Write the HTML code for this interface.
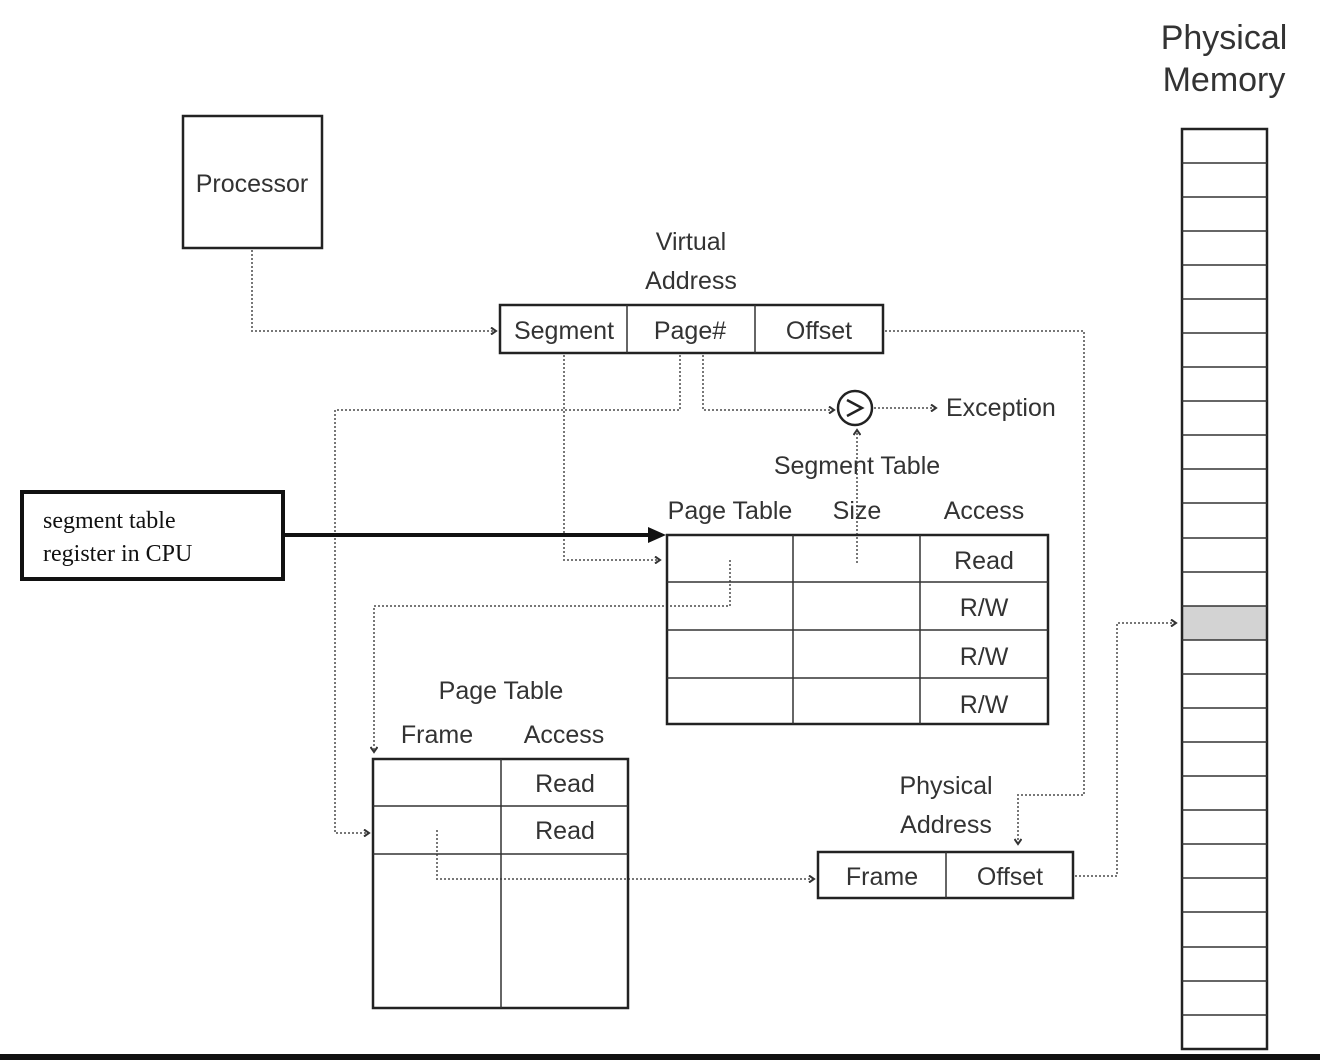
<!DOCTYPE html>
<html><head><meta charset="utf-8"><style>
html,body{margin:0;padding:0;background:#fff;width:1320px;height:1060px;overflow:hidden}
svg{display:block}
.t{font-family:"Liberation Sans Narrow","Liberation Sans",sans-serif;font-size:25px;fill:#333;text-anchor:middle;dominant-baseline:central}
.d{fill:none;stroke:#777;stroke-width:2;stroke-dasharray:2 2}
.b{fill:none;stroke:#222;stroke-width:2.5}
.l{stroke:#333;stroke-width:1.5}
</style></head><body>
<svg width="1320" height="1060" viewBox="0 0 1320 1060" xmlns="http://www.w3.org/2000/svg">
<defs><marker id="a" markerWidth="8" markerHeight="8" refX="6" refY="4" orient="auto" markerUnits="userSpaceOnUse"><path d="M1,0.5 L6,4 L1,7.5" fill="none" stroke="#333" stroke-width="2"/></marker></defs>

<!-- Physical Memory -->
<text x="1224" y="38" class="t" style="font-family:'Liberation Sans',sans-serif;font-size:34px">Physical</text>
<text x="1224" y="80" class="t" style="font-family:'Liberation Sans',sans-serif;font-size:34px">Memory</text>
<rect x="1182" y="606" width="85" height="34" fill="#d3d3d3"/>
<g id="mem"></g>
<rect x="1182" y="129" width="85" height="920" class="b"/>
<g class="l">
<line x1="1182" y1="163" x2="1267" y2="163"/><line x1="1182" y1="197" x2="1267" y2="197"/><line x1="1182" y1="231" x2="1267" y2="231"/><line x1="1182" y1="265" x2="1267" y2="265"/><line x1="1182" y1="299" x2="1267" y2="299"/><line x1="1182" y1="333" x2="1267" y2="333"/><line x1="1182" y1="367" x2="1267" y2="367"/><line x1="1182" y1="401" x2="1267" y2="401"/><line x1="1182" y1="435" x2="1267" y2="435"/><line x1="1182" y1="469" x2="1267" y2="469"/><line x1="1182" y1="503" x2="1267" y2="503"/><line x1="1182" y1="538" x2="1267" y2="538"/><line x1="1182" y1="572" x2="1267" y2="572"/><line x1="1182" y1="606" x2="1267" y2="606"/><line x1="1182" y1="640" x2="1267" y2="640"/><line x1="1182" y1="674" x2="1267" y2="674"/><line x1="1182" y1="708" x2="1267" y2="708"/><line x1="1182" y1="742" x2="1267" y2="742"/><line x1="1182" y1="776" x2="1267" y2="776"/><line x1="1182" y1="810" x2="1267" y2="810"/><line x1="1182" y1="844" x2="1267" y2="844"/><line x1="1182" y1="878" x2="1267" y2="878"/><line x1="1182" y1="912" x2="1267" y2="912"/><line x1="1182" y1="947" x2="1267" y2="947"/><line x1="1182" y1="981" x2="1267" y2="981"/><line x1="1182" y1="1015" x2="1267" y2="1015"/>
</g>
<rect x="0" y="1054" width="1320" height="6" fill="#111"/>

<!-- Processor -->
<rect x="183" y="116" width="139" height="132" class="b"/>
<text x="252" y="184" class="t">Processor</text>

<!-- Virtual address -->
<text x="691" y="242" class="t">Virtual</text>
<text x="691" y="281" class="t">Address</text>
<rect x="500" y="305" width="383" height="48" class="b"/>
<line x1="627" y1="305" x2="627" y2="353" class="l"/><line x1="755" y1="305" x2="755" y2="353" class="l"/>
<text x="564" y="331" class="t">Segment</text><text x="690" y="331" class="t">Page#</text><text x="819" y="331" class="t">Offset</text>

<!-- Connectors -->
<path d="M252,250 V331 H496" class="d" marker-end="url(#a)"/>
<path d="M703,355 V410 H834" class="d" marker-end="url(#a)"/>
<circle cx="855" cy="408" r="17" fill="#fff" stroke="#222" stroke-width="2.5"/>
<path d="M847,400 L862,408 L847,416" fill="none" stroke="#222" stroke-width="2.5"/>
<path d="M874,408 H936" class="d" marker-end="url(#a)"/>
<text x="946" y="408" class="t" style="text-anchor:start">Exception</text>
<path d="M680,355 V410 H335 V833 H369" class="d" marker-end="url(#a)"/>
<path d="M564,355 V560 H660" class="d" marker-end="url(#a)"/>
<path d="M857,563 V430" class="d" marker-end="url(#a)"/>
<path d="M885,331 H1084 V795 H1018 V844" class="d" marker-end="url(#a)"/>
<path d="M730,560 V606 H374 V752" class="d" marker-end="url(#a)"/>
<path d="M437,830 V879 H814" class="d" marker-end="url(#a)"/>
<path d="M1075,876 H1117 V623 H1176" class="d" marker-end="url(#a)"/>

<!-- Segment table -->
<text x="857" y="466" class="t">Segment Table</text>
<text x="730" y="511" class="t">Page Table</text><text x="857" y="511" class="t">Size</text><text x="984" y="511" class="t">Access</text>
<rect x="667" y="535" width="381" height="189" class="b"/>
<g class="l"><line x1="793" y1="535" x2="793" y2="724"/><line x1="920" y1="535" x2="920" y2="724"/>
<line x1="667" y1="582" x2="1048" y2="582"/><line x1="667" y1="630" x2="1048" y2="630"/><line x1="667" y1="678" x2="1048" y2="678"/></g>
<text x="984" y="561" class="t">Read</text><text x="984" y="608" class="t">R/W</text><text x="984" y="657" class="t">R/W</text><text x="984" y="705" class="t">R/W</text>

<!-- register -->
<rect x="22" y="492" width="261" height="87" fill="none" stroke="#111" stroke-width="4"/>
<text x="43" y="521" style="font-family:'Liberation Serif',serif;font-size:24px;fill:#111;dominant-baseline:central">segment table</text>
<text x="43" y="554" style="font-family:'Liberation Serif',serif;font-size:24px;fill:#111;dominant-baseline:central">register in CPU</text>
<line x1="283" y1="535" x2="652" y2="535" stroke="#111" stroke-width="4"/>
<path d="M648,527 L666,535 L648,543 Z" fill="#111"/>

<!-- Page table -->
<text x="501" y="691" class="t">Page Table</text>
<text x="437" y="735" class="t">Frame</text><text x="564" y="735" class="t">Access</text>
<rect x="373" y="759" width="255" height="249" class="b"/>
<g class="l"><line x1="501" y1="759" x2="501" y2="1008"/><line x1="373" y1="806" x2="628" y2="806"/><line x1="373" y1="854" x2="628" y2="854"/></g>
<text x="565" y="784" class="t">Read</text><text x="565" y="831" class="t">Read</text>

<!-- Physical address -->
<text x="946" y="786" class="t">Physical</text>
<text x="946" y="825" class="t">Address</text>
<rect x="818" y="852" width="255" height="46" class="b"/>
<line x1="946" y1="852" x2="946" y2="898" class="l"/>
<text x="882" y="877" class="t">Frame</text><text x="1010" y="877" class="t">Offset</text>
</svg>
</body></html>
